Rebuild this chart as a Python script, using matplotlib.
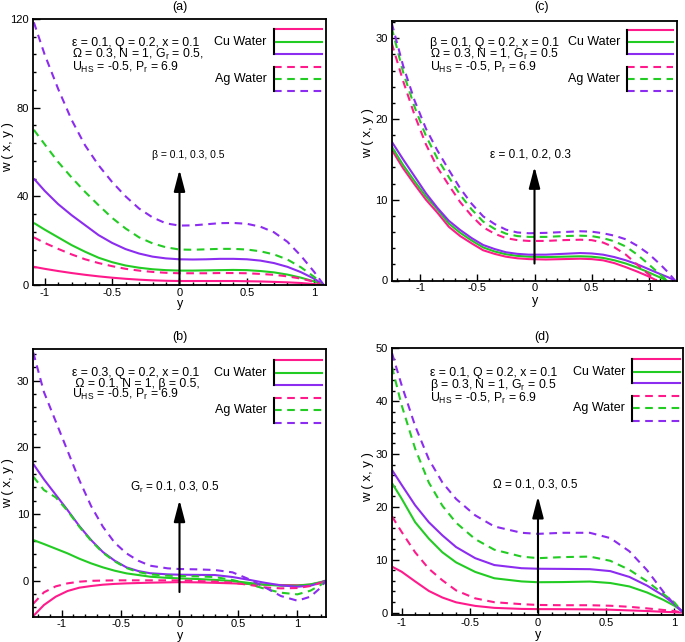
import matplotlib
matplotlib.use('Agg')
import matplotlib.pyplot as plt
from matplotlib.lines import Line2D
from matplotlib.ticker import MultipleLocator

plt.rcParams['font.family'] = ['Liberation Sans', 'DejaVu Sans']
plt.rcParams['mathtext.default'] = 'regular'
plt.rcParams['lines.scale_dashes'] = False

W, H = 685, 642
PINK, GREEN, PURPLE = '#ff1a8c', '#22cc22', '#8c2cf0'
COLORS = [PINK, GREEN, PURPLE]

# ---------------- panel (a): beta = 0.1, 0.3, 0.5 ----------------
a_x = [-1.08, -1.0, -0.9, -0.8, -0.7, -0.6, -0.5, -0.4, -0.3, -0.2, -0.1, 0,
       0.1, 0.2, 0.3, 0.4, 0.5, 0.6, 0.7, 0.8, 0.9, 1.0, 1.07]
a_cu_1 = [8.2, 7.3, 6.3, 5.4, 4.6, 3.9, 3.3, 2.8, 2.4, 2.1, 1.9, 1.8,
          1.8, 1.8, 1.8, 1.8, 1.7, 1.6, 1.4, 1.2, 0.9, 0.4, 0]
a_cu_2 = [28, 25, 21.5, 18, 15, 12.3, 10.3, 8.8, 7.8, 7.1, 6.7, 6.5,
          6.5, 6.6, 6.7, 6.8, 6.7, 6.3, 5.7, 4.7, 3.3, 1.6, 0]
a_cu_3 = [48, 42.5, 36.5, 31.5, 27, 22.5, 19, 16.2, 14.2, 12.8, 12, 11.6,
          11.5, 11.6, 11.8, 11.8, 11.6, 11, 9.9, 8.2, 5.8, 2.8, 0]
a_ag_1 = [21.5, 19, 16.3, 13.8, 11.6, 9.9, 8.5, 7.3, 6.5, 5.9, 5.5, 5.3,
          5.3, 5.3, 5.4, 5.4, 5.3, 5.0, 4.6, 3.9, 2.9, 1.4, 0]
a_ag_2 = [70, 63.5, 55.5, 48.5, 42, 36, 30.3, 25.5, 21.5, 18.8, 17, 16,
          15.9, 16.1, 16.3, 16.3, 16, 15.2, 13.8, 11.5, 8, 3.6, 0]
a_ag_3 = [118.5, 104, 88.5, 74.5, 63, 54, 46.5, 40, 34.5, 30.5, 27.8, 26.8,
          26.9, 27.4, 27.9, 28, 27.6, 26.3, 23.8, 19.5, 13.2, 5.8, 0]

# ---------------- panel (c): epsilon = 0.1, 0.2, 0.3 ----------------
c_x_1 = [-1.25, -1.15, -1.05, -0.95, -0.85, -0.75, -0.65, -0.55, -0.45, -0.35,
         -0.25, -0.15, -0.05, 0.1, 0.25, 0.4, 0.5, 0.6, 0.7, 0.8, 0.9, 1.0, 1.07]
c_x_2 = [-1.25, -1.15, -1.05, -0.95, -0.85, -0.75, -0.65, -0.55, -0.45, -0.35,
         -0.25, -0.15, -0.05, 0.1, 0.25, 0.4, 0.5, 0.6, 0.7, 0.8, 0.9, 1.0, 1.08, 1.16]
c_x_3 = [-1.25, -1.15, -1.05, -0.95, -0.85, -0.75, -0.65, -0.55, -0.45, -0.35,
         -0.25, -0.15, -0.05, 0.1, 0.25, 0.4, 0.5, 0.6, 0.7, 0.8, 0.9, 1.0, 1.1, 1.17, 1.23]
c_cu_1 = [16.2, 13.9, 11.9, 10.0, 8.4, 6.65, 5.5, 4.6, 3.75, 3.3, 2.95, 2.75,
          2.65, 2.6, 2.65, 2.7, 2.65, 2.5, 2.15, 1.65, 1.1, 0.5, 0]
c_cu_2 = [16.6, 14.3, 12.3, 10.4, 8.8, 7.05, 5.9, 4.95, 4.1, 3.6, 3.25, 3.05,
          2.95, 2.9, 2.95, 3.0, 2.95, 2.8, 2.5, 2.1, 1.6, 1.0, 0.5, 0]
c_cu_3 = [17.2, 15.0, 12.9, 10.8, 9.0, 7.4, 6.25, 5.25, 4.4, 3.9, 3.5, 3.3,
          3.2, 3.2, 3.3, 3.4, 3.35, 3.2, 2.9, 2.5, 2.0, 1.4, 0.8, 0.4, 0]
c_ag_1 = [29.4, 24.7, 20.5, 16.85, 14.0, 11.8, 9.7, 8.0, 6.6, 5.8, 5.25, 5.0,
          4.9, 4.9, 5.0, 5.05, 5.0, 4.7, 4.1, 3.2, 1.95, 0.75, 0]
c_ag_2 = [31.3, 25.8, 21.5, 17.9, 15.1, 12.8, 10.6, 8.8, 7.3, 6.4, 5.8, 5.5,
          5.4, 5.4, 5.5, 5.55, 5.5, 5.25, 4.85, 4.2, 3.2, 2.0, 1.0, 0]
c_ag_3 = [31.9, 26.6, 22.3, 18.8, 16.1, 13.7, 11.4, 9.5, 7.95, 7.0, 6.3, 5.95,
          5.85, 5.9, 6.0, 6.1, 6.05, 5.85, 5.55, 5.1, 4.3, 3.3, 2.0, 1.0, 0]

# ---------------- panel (b): Gr = 0.1, 0.3, 0.5 ----------------
b_x = [-1.24, -1.15, -1.05, -0.95, -0.85, -0.75, -0.65, -0.55, -0.45, -0.35,
       -0.25, -0.1, 0, 0.15, 0.3, 0.45, 0.6, 0.72, 0.86, 1.0, 1.11, 1.2, 1.24]
b_cu_1 = [-5.3, -3.65, -2.4, -1.55, -1.05, -0.8, -0.6, -0.48, -0.4, -0.35,
          -0.3, -0.25, -0.22, -0.25, -0.32, -0.4, -0.5, -0.6, -0.65, -0.68, -0.6, -0.25, 0]
b_cu_2 = [6.1, 5.5, 4.8, 4.1, 3.3, 2.6, 2.0, 1.5, 1.1, 0.85,
          0.6, 0.42, 0.35, 0.25, 0.12, -0.05, -0.35, -0.6, -0.75, -0.75, -0.55, -0.2, 0]
b_cu_3 = [17.5, 15.2, 12.9, 10.6, 8.2, 6.1, 4.3, 3.0, 2.0, 1.45,
          1.12, 0.95, 0.9, 0.87, 0.85, 0.55, 0.1, -0.3, -0.7, -0.9, -0.75, -0.3, 0]
b_ag_1 = [-3.45, -1.75, -0.85, -0.4, -0.15, -0.02, 0.02, 0.05, 0.05, 0.05,
          0.05, 0.05, 0.05, -0.05, -0.15, -0.3, -0.65, -1.0, -1.15, -1.1, -0.8, -0.3, 0]
b_ag_2 = [15.6, 13.6, 12.5, 10.5, 8.1, 6.0, 4.2, 2.9, 1.9, 1.3,
          0.95, 0.75, 0.7, 0.65, 0.55, 0.1, -0.55, -1.2, -1.8, -2.05, -1.5, -0.6, -0.1]
b_ag_3 = [34.2, 28.3, 23.9, 19.5, 15.1, 11.2, 8.1, 5.7, 4.1, 3.0,
          2.25, 1.85, 1.75, 1.7, 1.6, 1.25, 0.15, -0.95, -2.3, -3.0, -2.4, -1.0, -0.05]

# ---------------- panel (d): Omega = 0.1, 0.3, 0.5 ----------------
d_x = [-1.07, -1.0, -0.9, -0.8, -0.7, -0.6, -0.46, -0.32, -0.12, 0,
       0.18, 0.38, 0.53, 0.67, 0.8, 0.92, 1.0, 1.06]
d_cu_1 = [8.7, 7.75, 5.9, 4.1, 2.85, 1.95, 1.27, 0.9, 0.7, 0.66,
          0.65, 0.62, 0.55, 0.42, 0.3, 0.15, 0.08, 0]
d_cu_2 = [24.5, 21.6, 17.1, 14.0, 11.4, 9.5, 7.7, 6.5, 5.9, 5.75,
          5.78, 5.88, 5.6, 4.95, 3.8, 2.4, 1.3, 0.2]
d_cu_3 = [27.0, 24.2, 20.3, 17.1, 14.6, 12.4, 10.3, 9.0, 8.4, 8.3,
          8.27, 8.22, 7.85, 6.75, 5.1, 3.2, 1.6, 0.2]
d_ag_1 = [18.2, 15.3, 11.4, 8.3, 6.1, 4.2, 2.7, 1.97, 1.6, 1.45,
          1.4, 1.4, 1.3, 1.1, 0.8, 0.5, 0.3, 0]
d_ag_2 = [46.5, 39.3, 31.0, 24.6, 20.2, 17.0, 13.9, 11.9, 10.6, 10.3,
          10.5, 10.6, 9.8, 8.1, 5.9, 3.5, 1.9, 0.1]
d_ag_3 = [49.1, 43.1, 35.3, 29.0, 24.6, 21.5, 18.4, 16.3, 15.1, 14.9,
          15.1, 15.1, 14.1, 11.6, 8.0, 3.9, 1.55, 0.1]

fig = plt.figure(figsize=(W / 100, H / 100), dpi=100)


def fx(px):
    return px / W


def fy(py):
    return 1 - py / H


def make_axes(l, t, r, b):
    return fig.add_axes([fx(l), fy(b), (r - l) / W, (b - t) / H])


DASH = (0, (5.5, 4))


def panel(rect, xs_cu, cu, xs_ag, ag, xlim, ylim, ymin, yticks,
          arrow, title, title_pos, xlab_pos, ylab_pos,
          info, info_x, info_y, alab, alab_pos, alab_size, leg):
    ax = make_axes(*rect)
    for xs, ys, c in zip(xs_cu, cu, COLORS):
        ax.plot(xs, ys, color=c, lw=1.5, solid_capstyle='butt')
    for xs, ys, c in zip(xs_ag, ag, COLORS):
        ax.plot(xs, ys, color=c, lw=1.5, linestyle=DASH)
    ax.set_xlim(*xlim)
    ax.set_ylim(*ylim)
    ax.set_xticks([-1, -0.5, 0, 0.5, 1])
    ax.set_xticklabels(['-1', '-0.5', '0', '0.5', '1'])
    ax.xaxis.set_minor_locator(MultipleLocator(0.1))
    ax.set_yticks(yticks)
    ax.yaxis.set_minor_locator(MultipleLocator(ymin))
    ax.tick_params(which='both', direction='in', top=False, right=False,
                   labelsize=8, width=1)
    ax.tick_params(axis='x', pad=2)
    ax.tick_params(axis='y', pad=3)
    ax.tick_params(which='major', length=5)
    ax.tick_params(which='minor', length=2.5)
    for s in ax.spines.values():
        s.set_linewidth(1.3)
    ax.annotate('', xy=(0, arrow[1]), xytext=(0, arrow[0]),
                arrowprops=dict(arrowstyle='-|>,head_length=1.3,head_width=0.34',
                                color='k', lw=1.5, shrinkA=0, shrinkB=0,
                                mutation_scale=10))
    fig.text(fx(title_pos[0]), fy(title_pos[1]), title, ha='center', va='center', fontsize=9)
    fig.text(fx(xlab_pos[0]), fy(xlab_pos[1]), 'y', ha='center', va='center', fontsize=9)
    fig.text(fx(ylab_pos[0]), fy(ylab_pos[1]), 'w ( x, y )', ha='center', va='center',
             rotation=90, fontsize=9.5)
    fig.text(fx(info_x), fy(info_y), '\n'.join(info), ha='left', va='top',
             fontsize=8.8, linespacing=0.8)
    fig.text(fx(alab_pos[0]), fy(alab_pos[1]), alab, ha='left', va='center_baseline',
             fontsize=alab_size)
    # custom legend
    x0, x1, cu_y, ag_y, lab_x = leg
    for ys, ls, name in ((cu_y, '-', 'Cu Water'), (ag_y, DASH, 'Ag Water')):
        for yy, c in zip(ys, COLORS):
            fig.add_artist(Line2D([fx(x0), fx(x1)], [fy(yy), fy(yy)], color=c, lw=1.5,
                                  linestyle=ls, transform=fig.transFigure))
        fig.add_artist(Line2D([fx(x0), fx(x0)], [fy(ys[0]), fy(ys[2])], color='k', lw=1.5,
                              transform=fig.transFigure))
        fig.text(fx(lab_x), fy(ys[1]), name, ha='right', va='center', fontsize=9)
    return ax


GR = 'G$_r$'
UHS = 'U$_{HS}$ = -0.5, P$_r$ = 6.9'

panel((33.3, 19, 325.7, 285), [a_x] * 3, [a_cu_1, a_cu_2, a_cu_3],
      [a_x] * 3, [a_ag_1, a_ag_2, a_ag_3],
      (-1.084, 1.084), (0, 120), 8, [0, 40, 80, 120],
      (0, 52), '(a)', (180, 7), (180, 304.5), (8, 147),
      ['ε = 0.1, Q = 0.2, x = 0.1', 'Ω = 0.3, N = 1, ' + GR + ' = 0.5,', UHS],
      71.7, 37.3,
      'β = 0.1, 0.3, 0.5', (151.7, 154), 7.5,
      (274, 322, [29.3, 42, 54], [66.7, 79, 91.3], 266.7))

panel((391.7, 20.5, 677.3, 280.5), [c_x_1, c_x_2, c_x_3], [c_cu_1, c_cu_2, c_cu_3],
      [c_x_1, c_x_2, c_x_3], [c_ag_1, c_ag_2, c_ag_3],
      (-1.25, 1.25), (0, 32.2), 2, [0, 10, 20, 30],
      (2.1, 14.1), '(c)', (541.7, 7), (535, 301), (368, 133),
      ['β = 0.1, Q = 0.2, x = 0.1', 'Ω = 0.3, N = 1, ' + GR + ' = 0.5', UHS],
      430, 37.3,
      'ε = 0.1, 0.2, 0.3', (490, 152.7), 8.5,
      (626.7, 673.3, [30, 42.3, 54], [66.7, 78.7, 90.7], 620))

panel((33.3, 349.3, 325.7, 616.7), [b_x] * 3, [b_cu_1, b_cu_2, b_cu_3],
      [b_x] * 3, [b_ag_1, b_ag_2, b_ag_3],
      (-1.24, 1.24), (-5.4, 34.7), 2, [0, 10, 20, 30],
      (-1.7, 12.1), '(b)', (180, 337), (180, 636), (8, 483),
      ['ε = 0.3, Q = 0.2, x = 0.1', ' Ω = 0.1, N = 1, β = 0.5,', UHS],
      71.7, 367.3,
      GR + ' = 0.1, 0.3, 0.5', (130, 485), 8.5,
      (274, 321.7, [360, 372.7, 385], [397.7, 410, 422.7], 266.7))

panel((391.7, 348.3, 683.3, 615), [d_x] * 3, [d_cu_1, d_cu_2, d_cu_3],
      [d_x] * 3, [d_ag_1, d_ag_2, d_ag_3],
      (-1.072, 1.065), (-0.45, 50), 2, [0, 10, 20, 30, 40, 50],
      (0, 22), '(d)', (541.7, 337), (538.3, 635), (368, 477),
      ['ε = 0.1, Q = 0.2, x = 0.1', 'β = 0.3, N = 1, ' + GR + ' = 0.5', UHS],
      430, 366.9,
      'Ω = 0.1, 0.3, 0.5', (493.3, 483.3), 8.5,
      (632.3, 680, [359.3, 371.7, 383.3], [396, 408.3, 421], 625))

fig.savefig('out.png', dpi=100)
